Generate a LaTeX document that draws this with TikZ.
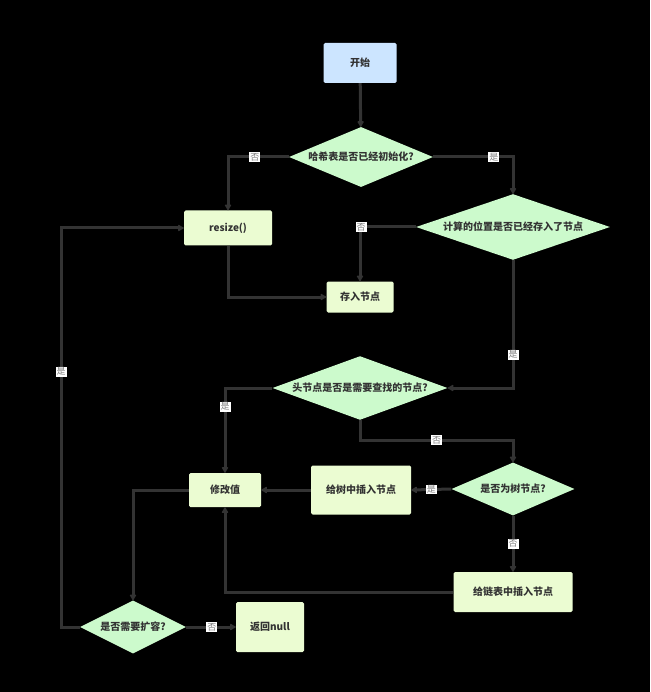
\documentclass[tikz,border=0pt]{standalone}
\usepackage{fontspec}
\setmainfont{Noto Sans CJK SC}
\usetikzlibrary{shapes.geometric,arrows.meta}
\definecolor{linec}{HTML}{333333}
\definecolor{boxg}{HTML}{EBFCD2}
\definecolor{diag}{HTML}{CCFACC}
\definecolor{boxb}{HTML}{CCE5FF}
\tikzset{
  box/.style={rectangle, rounded corners=1.5pt, fill=boxg, text=linec, font=\bfseries\fontsize{10}{12}\selectfont, inner sep=0pt},
  dia/.style={diamond, fill=diag, text=linec, font=\bfseries\fontsize{10}{12}\selectfont, inner sep=0pt, aspect=2.5},
  arr/.style={draw=linec, line width=3pt, -{Latex[length=7pt,width=8pt,round]}},
  ln/.style={draw=linec, line width=3pt},
  lab/.style={fill=white, text=gray, font=\fontsize{9}{10}\selectfont, inner sep=1pt}
}
\begin{document}
\begin{tikzpicture}[x=1pt,y=-1pt]
\fill[black] (0,0) rectangle (650,692);
\useasboundingbox (0,0) rectangle (650,692);
\node[box, fill=boxb, minimum width=73pt, minimum height=40pt] (start) at (360,63) {开始};
\node[dia, minimum width=144pt, minimum height=60pt] (d1) at (361,157) {哈希表是否已经初始化?};
\node[box, minimum width=88pt, minimum height=35pt] (resize) at (228,228) {resize()};
\node[dia, minimum width=194pt, minimum height=60pt] (d2) at (513,227) {计算的位置是否已经存入了节点};
\node[box, minimum width=67pt, minimum height=31pt] (store) at (360,297) {存入节点};
\node[dia, minimum width=175pt, minimum height=59pt] (d3) at (360,388) {头节点是否是需要查找的节点?};
\node[box, minimum width=72pt, minimum height=34pt] (modify) at (225,490) {修改值};
\node[box, minimum width=100pt, minimum height=49pt] (treeins) at (361,490) {给树中插入节点};
\node[dia, minimum width=123pt, minimum height=53pt] (istree) at (513,489) {是否为树节点?};
\node[box, minimum width=119pt, minimum height=40pt] (listins) at (513,592) {给链表中插入节点};
\node[dia, minimum width=106pt, minimum height=53pt] (expand) at (133,627) {是否需要扩容?};
\node[box, minimum width=68pt, minimum height=50pt] (ret) at (270,627) {返回null};
\coordinate (c1) at (360,440);
\coordinate (c2) at (61,627);
\draw[arr] (start) -- (d1);
\draw[arr] (d1.west) -| node[lab,pos=0.28]{否} (resize.north);
\draw[arr] (d1.east) -| node[lab,pos=0.38]{是} (d2.north);
\draw[arr] (d2.west) -| node[lab,pos=0.49]{否} (store.north);
\draw[arr] (resize.south) |- (store.west);
\draw[arr] (d2.south) |- node[lab,pos=0.37]{是} (d3.east);
\draw[arr] (d3.west) -| node[lab,pos=0.61]{是} (modify.north);
\draw[arr] (d3.south) -- (c1) -| node[lab,pos=0.25]{否} (istree.north);
\draw[arr] (istree.west) -- node[lab,pos=0.5]{是} (treeins.east);
\draw[arr] (treeins.west) -- (modify.east);
\draw[arr] (istree.south) -- node[lab,pos=0.5]{否} (listins.north);
\draw[arr] (listins.west) -| (modify.south);
\draw[arr] (modify.west) -| (expand.north);
\draw[arr] (expand.west) -- (c2) |- node[lab,pos=0.32]{是} (resize.west);
\draw[arr] (expand.east) -- node[lab,pos=0.52]{否} (ret.west);
\end{tikzpicture}
\end{document}
